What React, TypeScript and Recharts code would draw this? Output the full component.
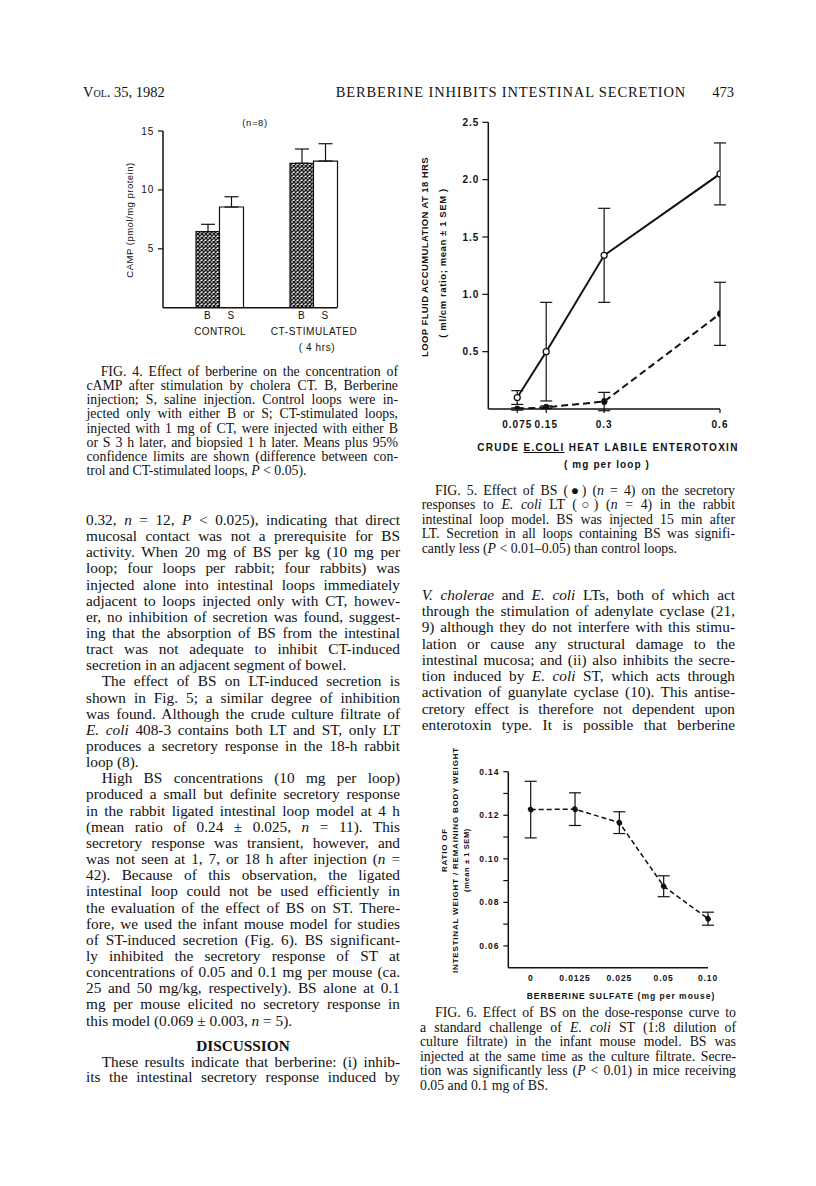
import React, { useLayoutEffect, useRef, useState } from 'react';
import { BarChart, Bar, XAxis, YAxis, Cell, ErrorBar, LineChart, Line } from 'recharts';

// ---------- FIG. 4 data ----------
const fig4Slots = ['B', 'S', ' ', '  ', 'B ', 'S '];
const fig4Groups = ['B', 'S', '', '', 'B', 'S'];
const fig4Values: (number | null)[] = [6.45, 8.55, null, null, 12.26, 12.45];
const fig4Upper: (number | null)[] = [0.63, 0.87, null, null, 1.21, 1.47];
const fig4YTicks = [5, 10, 15];

// ---------- FIG. 5 data ----------
const fig5Doses = [0.075, 0.15, 0.3, 0.6];
const fig5LT = [0.1, 0.5, 1.34, 2.05];
const fig5LTErr = [0.06, 0.43, 0.41, 0.27];
const fig5BS = [0.0, 0.015, 0.065, 0.83];
const fig5BSErr = [0.01, 0.012, 0.08, 0.275];
const fig5XTicks = [0.075, 0.15, 0.3, 0.6];
const fig5YTicks = [0.5, 1.0, 1.5, 2.0, 2.5];

// ---------- FIG. 6 data ----------
const fig6Doses = ['0', '0.0125', '0.025', '0.05', '0.10'];
const fig6Ratio = [0.1226, 0.1228, 0.1166, 0.0874, 0.0725];
const fig6Err = [0.013, 0.0075, 0.005, 0.0048, 0.003];
const fig6YTicks = [0.06, 0.07, 0.08, 0.09, 0.1, 0.11, 0.12, 0.13, 0.14];

const fig4Data = fig4Slots.map((s, i) => ({
  slot: s,
  value: fig4Values[i],
  err: fig4Upper[i] == null ? null : [0, fig4Upper[i] as number],
  group: fig4Groups[i],
}));
const fig5Data = fig5Doses.map((d, i) => ({
  dose: d,
  lt: fig5LT[i],
  ltErr: fig5LTErr[i],
  bs: fig5BS[i],
  bsErr: fig5BSErr[i],
}));
const fig6Data = fig6Doses.map((d, i) => ({ dose: d, ratio: fig6Ratio[i], err: fig6Err[i] }));

// ---------- text ----------
const fig4Caption = [
  'FIG. 4. Effect of berberine on the concentration of',
  'cAMP after stimulation by cholera CT. B, Berberine',
  'injection; S, saline injection. Control loops were in-',
  'jected only with either B or S; CT-stimulated loops,',
  'injected with 1 mg of CT, were injected with either B',
  'or S 3 h later, and biopsied 1 h later. Means plus 95%',
  'confidence limits are shown (difference between con-',
  'trol and CT-stimulated loops, *P* < 0.05).',
];
const leftBody = [
  '0.32, *n* = 12, *P* < 0.025), indicating that direct',
  'mucosal contact was not a prerequisite for BS',
  'activity. When 20 mg of BS per kg (10 mg per',
  'loop; four loops per rabbit; four rabbits) was',
  'injected alone into intestinal loops immediately',
  'adjacent to loops injected only with CT, howev-',
  'er, no inhibition of secretion was found, suggest-',
  'ing that the absorption of BS from the intestinal',
  'tract was not adequate to inhibit CT-induced',
  'secretion in an adjacent segment of bowel.',
  'The effect of BS on LT-induced secretion is',
  'shown in Fig. 5; a similar degree of inhibition',
  'was found. Although the crude culture filtrate of',
  '*E. coli* 408-3 contains both LT and ST, only LT',
  'produces a secretory response in the 18-h rabbit',
  'loop (8).',
  'High BS concentrations (10 mg per loop)',
  'produced a small but definite secretory response',
  'in the rabbit ligated intestinal loop model at 4 h',
  '(mean ratio of 0.24 ± 0.025, *n* = 11). This',
  'secretory response was transient, however, and',
  'was not seen at 1, 7, or 18 h after injection (*n* =',
  '42). Because of this observation, the ligated',
  'intestinal loop could not be used efficiently in',
  'the evaluation of the effect of BS on ST. There-',
  'fore, we used the infant mouse model for studies',
  'of ST-induced secretion (Fig. 6). BS significant-',
  'ly inhibited the secretory response of ST at',
  'concentrations of 0.05 and 0.1 mg per mouse (ca.',
  '25 and 50 mg/kg, respectively). BS alone at 0.1',
  'mg per mouse elicited no secretory response in',
  'this model (0.069 ± 0.003, *n* = 5).',
];
const leftBodyLast = [9, 15, 31];
const leftBodyIndent = [10, 16];
const discussion = [
  'These results indicate that berberine: (i) inhib-',
  'its the intestinal secretory response induced by',
];
const rightBody = [
  '*V. cholerae* and *E. coli* LTs, both of which act',
  'through the stimulation of adenylate cyclase (21,',
  '9) although they do not interfere with this stimu-',
  'lation or cause any structural damage to the',
  'intestinal mucosa; and (ii) also inhibits the secre-',
  'tion induced by *E. coli* ST, which acts through',
  'activation of guanylate cyclase (10). This antise-',
  'cretory effect is therefore not dependent upon',
  'enterotoxin type. It is possible that berberine',
];
const fig5Caption = [
  'FIG. 5. Effect of BS (\u25CF) (*n* = 4) on the secretory',
  'responses to *E. coli* LT (\u25CB) (*n* = 4) in the rabbit',
  'intestinal loop model. BS was injected 15 min after',
  'LT. Secretion in all loops containing BS was signifi-',
  'cantly less (*P* < 0.01\u20130.05) than control loops.',
];
const fig6Caption = [
  'FIG. 6. Effect of BS on the dose-response curve to',
  'a standard challenge of *E. coli* ST (1:8 dilution of',
  'culture filtrate) in the infant mouse model. BS was',
  'injected at the same time as the culture filtrate. Secre-',
  'tion was significantly less (*P* < 0.01) in mice receiving',
  '0.05 and 0.1 mg of BS.',
];

const SERIF = '"Liberation Serif", "Times New Roman", serif';
const SANS = '"Liberation Sans", Arial, sans-serif';

function rich(s: string) {
  const parts = s.split('*');
  return parts.map((p, i) => (i % 2 === 1 ? <i key={i}>{p}</i> : <span key={i}>{p}</span>));
}

// One typeset line: justified to width w; if the natural width is too wide, letters are tightened to fit.
function TL(props: { x: number; y: number; w: number; text: string; last?: boolean; size: number; lh: number }) {
  const { x, y, w, text, last, size, lh } = props;
  const ref = useRef<HTMLSpanElement>(null);
  const [ls, setLs] = useState<number | null>(null);
  useLayoutEffect(() => {
    if (ls !== null || !ref.current) return;
    const nat = ref.current.getBoundingClientRect().width;
    const n = text.replace(/\*/g, '').length;
    setLs(nat > w - 1 ? (w - 1 - nat) / n : 0);
  }, [ls, text, w]);
  return (
    <div
      style={{
        position: 'absolute',
        left: x,
        top: y - lh / 2,
        width: w,
        height: lh,
        lineHeight: lh + 'px',
        fontSize: size,
        letterSpacing: ls ?? 0,
        fontFamily: SERIF,
        textAlign: ls === null || last ? 'left' : 'justify',
        textAlignLast: ls === null || last ? 'left' : 'justify',
        whiteSpace: 'nowrap',
        color: '#111',
      }}
    >
      <span ref={ref}>{rich(text)}</span>
    </div>
  );
}

function Txt(props: {
  x: number;
  y: number;
  children: React.ReactNode;
  anchor?: 'start' | 'middle' | 'end';
  rotate?: boolean;
  style?: React.CSSProperties;
}) {
  const { x, y, children, anchor = 'middle', rotate, style } = props;
  const tx = anchor === 'middle' ? '-50%' : anchor === 'end' ? '-100%' : '0';
  return (
    <div
      style={{
        position: 'absolute',
        left: x,
        top: y,
        transform: `translate(${tx}, -50%)${rotate ? ' rotate(-90deg)' : ''}`,
        transformOrigin: rotate ? '50% 50%' : undefined,
        whiteSpace: 'nowrap',
        lineHeight: 1,
        fontFamily: SANS,
        color: '#111',
        ...style,
      }}
    >
      {children}
    </div>
  );
}

const axisStroke = { stroke: '#111', strokeWidth: 1.5 };

function Fig4() {
  const tick = { fill: '#111', fontSize: 10, fontFamily: SANS, letterSpacing: 0.8 };
  return (
    <div style={{ position: 'absolute', left: 90, top: 110 }}>
      <BarChart
        width={260}
        height={260}
        data={fig4Data}
        margin={{ top: 21, right: 13, bottom: 42.3, left: 0 }}
        barCategoryGap={0}
        barGap={0}
      >
        <defs>
          <pattern id="hatch" width="4" height="4" patternUnits="userSpaceOnUse">
            <rect width="4" height="4" fill="#fff" />
            <path d="M0,0 L4,4 M4,0 L0,4" stroke="#1a1a1a" strokeWidth="1.4" />
          </pattern>
        </defs>
        <XAxis
          dataKey="slot"
          height={20}
          padding={{ left: 33, right: 0 }}
          axisLine={axisStroke}
          tickLine={false}
          tickSize={2}
          tickMargin={2}
          interval={0}
          tick={tick}
          tickFormatter={(v: string) => v.trim()}
        />
        <YAxis
          width={73}
          domain={[0, 15]}
          ticks={fig4YTicks}
          axisLine={axisStroke}
          tickLine={{ stroke: '#111', strokeWidth: 1.2 }}
          tickSize={5}
          tickMargin={4}
          tick={tick}
          allowDataOverflow
        />
        <Bar dataKey="value" isAnimationActive={false} stroke="#111" strokeWidth={1.2}>
          {fig4Data.map((d, i) => (
            <Cell key={i} fill={d.group === 'B' ? 'url(#hatch)' : '#fff'} />
          ))}
          <ErrorBar dataKey="err" width={7} stroke="#111" strokeWidth={1.2} direction="y" />
        </Bar>
      </BarChart>
    </div>
  );
}

function Fig5() {
  const tick = { fill: '#111', fontSize: 10, fontFamily: SANS, fontWeight: 700, letterSpacing: 1.0 };
  return (
    <div style={{ position: 'absolute', left: 410, top: 100 }}>
      <LineChart width={330} height={340} data={fig5Data} margin={{ top: 22.3, right: 20, bottom: 11, left: 0 }}>
        <XAxis
          dataKey="dose"
          type="number"
          domain={[0, 0.6]}
          ticks={fig5XTicks}
          height={20}
          axisLine={axisStroke}
          tickLine={{ stroke: '#111', strokeWidth: 1.2 }}
          tickSize={4}
          tickMargin={8}
          interval={0}
          tick={tick}
          tickFormatter={(v: number) => String(v)}
          allowDataOverflow
        />
        <YAxis
          width={78.3}
          domain={[0, 2.5]}
          ticks={fig5YTicks}
          axisLine={axisStroke}
          tickLine={{ stroke: '#111', strokeWidth: 1.2 }}
          tickSize={6}
          tickMargin={3}
          tick={tick}
          tickFormatter={(v: number) => v.toFixed(1)}
          allowDataOverflow
        />
        <Line
          dataKey="bs"
          isAnimationActive={false}
          stroke="#111"
          strokeWidth={2}
          strokeDasharray="7 4"
          dot={{ r: 3, fill: '#111', stroke: '#111', strokeWidth: 1 }}
        >
          <ErrorBar dataKey="bsErr" width={6} stroke="#111" strokeWidth={1.2} direction="y" />
        </Line>
        <Line
          dataKey="lt"
          isAnimationActive={false}
          stroke="#111"
          strokeWidth={2}
          dot={{ r: 3, fill: '#fff', stroke: '#111', strokeWidth: 1.3 }}
        >
          <ErrorBar dataKey="ltErr" width={6} stroke="#111" strokeWidth={1.2} direction="y" />
        </Line>
      </LineChart>
    </div>
  );
}

function Fig6() {
  const tick = { fill: '#111', fontSize: 8.5, fontFamily: SANS, fontWeight: 700, letterSpacing: 0.9 };
  return (
    <div style={{ position: 'absolute', left: 440, top: 750 }}>
      <LineChart width={290} height={260} data={fig6Data} margin={{ top: 21.7, right: 22, bottom: 22.3, left: 0 }}>
        <XAxis
          dataKey="dose"
          height={20}
          padding={{ left: 22.4, right: 0 }}
          axisLine={axisStroke}
          tickLine={false}
          tickSize={3}
          tickMargin={4}
          interval={0}
          tick={tick}
        />
        <YAxis
          width={68.3}
          domain={[0.05, 0.14]}
          ticks={fig6YTicks}
          interval={0}
          axisLine={axisStroke}
          tickLine={{ stroke: '#111', strokeWidth: 1.2 }}
          tickSize={5}
          tickMargin={4}
          tick={tick}
          tickFormatter={(v: number) => (Math.round(v * 100) % 2 === 0 ? v.toFixed(2) : '')}
          allowDataOverflow
        />
        <Line
          dataKey="ratio"
          isAnimationActive={false}
          stroke="#111"
          strokeWidth={1.5}
          strokeDasharray="5 3"
          dot={{ r: 2.6, fill: '#111', stroke: '#111', strokeWidth: 1 }}
        >
          <ErrorBar dataKey="err" width={6} stroke="#111" strokeWidth={1.2} direction="y" />
        </Line>
      </LineChart>
    </div>
  );
}

export default function App() {
  const capSize = 13.8;
  const capLh = 14.4;
  const bodySize = 15.3;
  const bodyLh = 16.15;
  return (
    <div style={{ position: 'absolute', left: 0, top: 0, width: 816, height: 1186, background: '#fff', overflow: 'hidden' }}>
      {/* header */}
      <Txt x={83} y={91.5} anchor="start" style={{ fontFamily: SERIF, fontSize: 14.5, fontVariant: 'small-caps' }}>
        Vol. 35, 1982
      </Txt>
      <Txt x={511} y={91.5} style={{ fontFamily: SERIF, fontSize: 14.5, letterSpacing: 0.85 }}>
        BERBERINE INHIBITS INTESTINAL SECRETION
      </Txt>
      <Txt x={734} y={91.5} anchor="end" style={{ fontFamily: SERIF, fontSize: 14.5 }}>
        473
      </Txt>

      {/* FIG 4 chart */}
      <Fig4 />
      <Txt x={255} y={123} style={{ fontSize: 9.5, letterSpacing: 0.6 }}>(n=8)</Txt>
      <Txt x={130} y={220} rotate style={{ fontSize: 9.5, letterSpacing: 0.5 }}>
        CAMP (pmol/mg protein)
      </Txt>
      <Txt x={220} y={332} style={{ fontSize: 10, letterSpacing: 0.4 }}>CONTROL</Txt>
      <Txt x={314} y={332} style={{ fontSize: 10, letterSpacing: 0.6 }}>CT-STIMULATED</Txt>
      <Txt x={317} y={348} style={{ fontSize: 10, letterSpacing: 0.6 }}>( 4 hrs)</Txt>

      {/* FIG 5 chart */}
      <Fig5 />
      <Txt x={425} y={257} rotate style={{ fontSize: 9.5, fontWeight: 700, letterSpacing: 0.4 }}>
        LOOP FLUID ACCUMULATION AT 18 HRS
      </Txt>
      <Txt x={443} y={263} rotate style={{ fontSize: 9.5, fontWeight: 700, letterSpacing: 0.6 }}>
        ( ml/cm ratio; mean ± 1 SEM )
      </Txt>
      <Txt x={608} y={448} style={{ fontSize: 10, fontWeight: 700, letterSpacing: 1.3 }}>
        CRUDE <span style={{ textDecoration: 'underline' }}>E.COLI</span> HEAT LABILE ENTEROTOXIN
      </Txt>
      <Txt x={607} y={465} style={{ fontSize: 10, fontWeight: 700, letterSpacing: 1.1 }}>
        ( mg per loop )
      </Txt>

      {/* FIG 6 chart */}
      <Fig6 />
      <Txt x={445} y={850} rotate style={{ fontSize: 8, fontWeight: 700, letterSpacing: 0.8 }}>RATIO OF</Txt>
      <Txt x={455.5} y={860} rotate style={{ fontSize: 8, fontWeight: 700, letterSpacing: 0.8 }}>
        INTESTINAL WEIGHT / REMAINING BODY WEIGHT
      </Txt>
      <Txt x={466.5} y={860} rotate style={{ fontSize: 7.5, fontWeight: 700, letterSpacing: 0.6 }}>
        (mean ± 1 SEM)
      </Txt>
      <Txt x={621} y={995.7} style={{ fontSize: 8.5, fontWeight: 700, letterSpacing: 1.0 }}>
        BERBERINE SULFATE (mg per mouse)
      </Txt>

      {/* FIG 4 caption */}
      {fig4Caption.map((t, i) => (
        <TL
          key={'c4' + i}
          x={i === 0 ? 100.7 : 86.5}
          w={i === 0 ? 398 - 100.7 : 398 - 86.5}
          y={371.7 + i * 14.28}
          text={t}
          last={i === fig4Caption.length - 1}
          size={capSize}
          lh={capLh}
        />
      ))}

      {/* left body */}
      {leftBody.map((t, i) => {
        const ind = leftBodyIndent.includes(i);
        const x = ind ? 101.7 : 86;
        return (
          <TL
            key={'lb' + i}
            x={x}
            w={400 - x}
            y={520 + i * 16.15}
            text={t}
            last={leftBodyLast.includes(i)}
            size={bodySize}
            lh={bodyLh}
          />
        );
      })}
      <Txt x={243} y={1046} style={{ fontFamily: SERIF, fontSize: 15.3, fontWeight: 700 }}>
        DISCUSSION
      </Txt>
      {discussion.map((t, i) => {
        const x = i === 0 ? 101.7 : 86;
        return <TL key={'d' + i} x={x} w={400 - x} y={1062 + i * 15.5} text={t} size={bodySize} lh={bodyLh} />;
      })}

      {/* FIG 5 caption */}
      {fig5Caption.map((t, i) => {
        const x = i === 0 ? 435 : 421.7;
        return (
          <TL
            key={'c5' + i}
            x={x}
            w={735 - x}
            y={491 + i * 14.5}
            text={t}
            last={i === fig5Caption.length - 1}
            size={capSize}
            lh={capLh}
          />
        );
      })}

      {/* right body */}
      {rightBody.map((t, i) => (
        <TL key={'rb' + i} x={421.7} w={735 - 421.7} y={595 + i * 16.25} text={t} size={bodySize} lh={bodyLh} />
      ))}

      {/* FIG 6 caption */}
      {fig6Caption.map((t, i) => {
        const x = i === 0 ? 435 : 420;
        return (
          <TL
            key={'c6' + i}
            x={x}
            w={736 - x}
            y={1013.3 + i * 14.5}
            text={t}
            last={i === fig6Caption.length - 1}
            size={capSize}
            lh={capLh}
          />
        );
      })}
    </div>
  );
}
